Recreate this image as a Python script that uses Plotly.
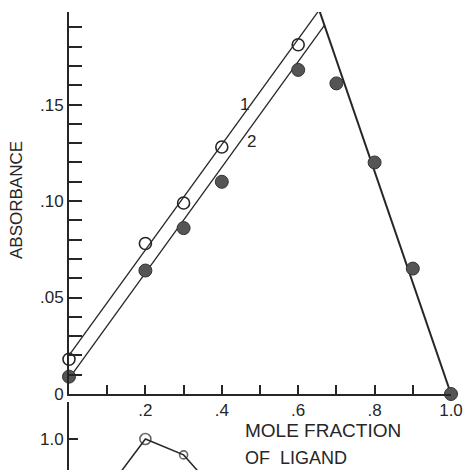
import plotly.graph_objects as go

# curve 1 (open circles) and curve 2 (filled circles)
x_open = [0.0, 0.2, 0.3, 0.4, 0.6]
y_open = [0.018, 0.078, 0.099, 0.128, 0.181]
x_fill = [0.0, 0.2, 0.3, 0.4, 0.6, 0.7, 0.8, 0.9, 1.0]
y_fill = [0.009, 0.064, 0.086, 0.110, 0.168, 0.161, 0.120, 0.065, 0.0]

# straight lines drawn through the points
line1_x = [0.0, 0.655]
line1_y = [0.020, 0.199]
line2_x = [0.0, 0.668]
line2_y = [0.008, 0.191]
desc_x = [0.655, 1.0]
desc_y = [0.199, 0.0]

# lower panel (cut off by page edge)
low_x = [0.1, 0.2, 0.3, 0.4]
low_y = [0.862, 1.0, 0.957, 0.84]

xtick_vals = [0.0, 0.1, 0.2, 0.3, 0.4, 0.5, 0.6, 0.7, 0.8, 0.9, 1.0]
xtick_text = ["", "", ".2", "", ".4", "", ".6", "", ".8", "", "1.0"]
ytick_vals = [0.0, 0.01, 0.02, 0.03, 0.04, 0.05, 0.06, 0.07, 0.08, 0.09,
              0.10, 0.11, 0.12, 0.13, 0.14, 0.15, 0.16, 0.17, 0.18, 0.19]
ytick_labels = {0.0: "0", 0.05: ".05", 0.10: ".10", 0.15: ".15"}
ytick_text = [ytick_labels.get(v, "") for v in ytick_vals]
low_tick_vals = [1.0, 1.1]
low_tick_text = ["1.0", ""]

# full-window figure; body margin is removed in post_script
W, H = 463, 470


def px(x):
    return x / W


def py(y):
    return 1 - y / H


ink = '#262626'
fam = "Liberation Sans, Arial, sans-serif"
font = dict(family=fam, size=17, color=ink)

fig = go.Figure()
for lx, ly, w in [(line1_x, line1_y, 1.3), (line2_x, line2_y, 1.3), (desc_x, desc_y, 2)]:
    fig.add_trace(go.Scatter(x=lx, y=ly, mode='lines', line=dict(color=ink, width=w),
                             hoverinfo='skip', cliponaxis=False))

fig.add_trace(go.Scatter(x=x_open, y=y_open, mode='markers', cliponaxis=False,
                         marker=dict(symbol='circle-open', size=12, color=ink, line=dict(width=1.6))))
fig.add_trace(go.Scatter(x=x_fill, y=y_fill, mode='markers', cliponaxis=False,
                         marker=dict(symbol='circle', size=13, color='#555555',
                                     line=dict(color='#333333', width=1))))

fig.add_trace(go.Scatter(x=low_x, y=low_y, mode='lines', xaxis='x2', yaxis='y2',
                         line=dict(color=ink, width=1.5), hoverinfo='skip'))
fig.add_trace(go.Scatter(x=low_x[1:3], y=low_y[1:3], mode='markers', xaxis='x2', yaxis='y2',
                         cliponaxis=False,
                         marker=dict(symbol='circle-open', size=[11, 8], color=ink, line=dict(width=1.6))))

fig.add_annotation(x=0.46, y=0.150, text="1", showarrow=False, font=dict(family=fam, size=17, color=ink))
fig.add_annotation(x=0.479, y=0.131, text="2", showarrow=False, font=dict(family=fam, size=17, color=ink))

fig.add_annotation(xref='paper', yref='paper', x=px(17), y=py(200), xanchor='center',
                   yanchor='middle', text="ABSORBANCE", textangle=-90, showarrow=False,
                   font=dict(family=fam, size=17, color=ink))
fig.add_annotation(xref='paper', yref='paper', x=px(243), y=py(430), xanchor='left',
                   yanchor='middle', text="MOLE FRACTION", showarrow=False,
                   font=dict(family=fam, size=19, color=ink))
fig.add_annotation(xref='paper', yref='paper', x=px(243), y=py(458), xanchor='left',
                   yanchor='middle', text="OF  LIGAND", showarrow=False,
                   font=dict(family=fam, size=18, color=ink))

# no template: its automargin was pushing the plot area in
axis_common = dict(showgrid=False, zeroline=False, showline=True, linecolor=ink, linewidth=2,
                   ticks='inside', tickcolor=ink, tickwidth=2, tickfont=font,
                   ticklabeloverflow='allow', automargin=False)

# lower panel: 1.0 sits at y=439, 0.1 per 37px, bottom of page at y=470
low_bottom = 1.0 - (H - 439) / 370

fig.update_layout(
    template='none',
    width=W, height=H, margin=dict(l=0, r=0, t=0, b=0, pad=0, autoexpand=False),
    paper_bgcolor='white', plot_bgcolor='white', showlegend=False,
    xaxis=dict(domain=[px(69), px(451)], range=[0, 1.0], tickvals=xtick_vals, ticktext=xtick_text,
               ticklen=9, anchor='y', **axis_common),
    yaxis=dict(domain=[py(394), py(12)], range=[0, 0.198], tickvals=ytick_vals,
               ticktext=ytick_text, ticklen=13, anchor='x', **axis_common),
    xaxis2=dict(domain=[px(69), px(451)], range=[0, 1.0], matches='x', anchor='y2', visible=False,
                automargin=False),
    yaxis2=dict(domain=[0, py(402)], range=[low_bottom, 1.1], tickvals=low_tick_vals,
                ticktext=low_tick_text, ticklen=9, anchor='x2', **axis_common),
)

fig.write_html(
    "out.html", config={'staticPlot': True},
    post_script="document.body.style.margin='0px';"
                "document.documentElement.style.overflow='hidden';"
                "document.body.style.overflow='hidden';")
